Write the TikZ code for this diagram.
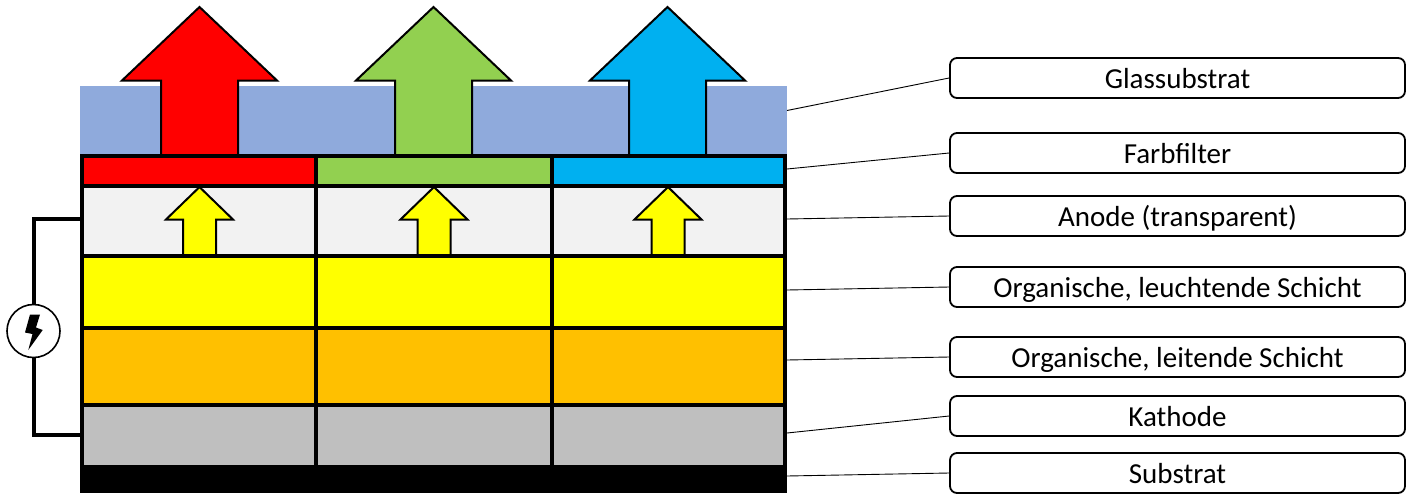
\documentclass[tikz,border=0pt]{standalone}
\usepackage{fontspec}
\setmainfont{Carlito}
\definecolor{cglass}{HTML}{8FAADC}
\definecolor{cred}{RGB}{255,0,0}
\definecolor{cyellow}{RGB}{255,255,0}
\definecolor{cgreen}{HTML}{92D050}
\definecolor{cblue}{HTML}{00B0F0}
\definecolor{clight}{HTML}{F2F2F2}
\definecolor{corange}{HTML}{FFC000}
\definecolor{cgrey}{HTML}{BFBFBF}
\tikzset{
  px/.style={x=1pt,y=-1pt},
  cell/.style={draw=black,line width=3.6pt},
  bigarrow/.style={draw=black,line width=2pt,miter limit=10},
  smallarrow/.style={draw=black,line width=2pt,miter limit=10},
  labelbox/.style={draw=black,line width=1.8pt,rounded corners=7pt,minimum width=455pt,minimum height=40pt,inner sep=0pt,text height=22pt,text depth=2pt,font=\fontsize{29}{34}\selectfont,anchor=center},
  leader/.style={draw=black,line width=0.9pt},
  wire/.style={draw=black,line width=4pt},
}
\newcommand{\bigarr}[2]{%
  \path[bigarrow,fill=#2] (#1,7) -- (#1+77.5,80.5) -- (#1+38.5,80.5) -- (#1+38.5,155) -- (#1-38.5,155) -- (#1-38.5,80.5) -- (#1-77.5,80.5) -- cycle;}
\newcommand{\smallarr}[1]{%
  \path[smallarrow,fill=cyellow] (#1,187) -- (#1+33.5,219.5) -- (#1+16.5,219.5) -- (#1+16.5,255) -- (#1-16.5,255) -- (#1-16.5,219.5) -- (#1-33.5,219.5) -- cycle;}
\newcommand{\layer}[3]{%
  \path[fill=#3] (82,#1) rectangle (785,#2);
  \draw[cell] (82,#1) rectangle (316,#2);
  \draw[cell] (316,#1) rectangle (552,#2);
  \draw[cell] (552,#1) rectangle (785,#2);}
\begin{document}
\begin{tikzpicture}[px]
\useasboundingbox (0,0) rectangle (1412,501);
% glass
\fill[cglass] (80,86) rectangle (787,156);
% large arrows
\bigarr{199.5}{cred}
\bigarr{433.5}{cgreen}
\bigarr{667.5}{cblue}
% layers
\fill[cred] (82,156) rectangle (316,186);
\fill[cgreen] (316,156) rectangle (552,186);
\fill[cblue] (552,156) rectangle (785,186);
\layer{156}{186}{none}
\layer{186}{256}{clight}
\layer{256}{328}{cyellow}
\layer{328}{405}{corange}
\layer{405}{467}{cgrey}
\fill[black] (80,465.5) rectangle (787,493);
% small arrows
\smallarr{199.5}
\smallarr{434}
\smallarr{668}
% power circuit
\node[draw=black,line width=1.6pt,fill=white,circle,minimum size=53pt,inner sep=0pt] (power) at (33.5,331) {};
\coordinate (anodeEnd) at (81,219);
\coordinate (cathodeEnd) at (81,434.5);
\draw[wire,line join=miter] (anodeEnd) -| (power.north);
\draw[wire,line join=miter] (cathodeEnd) -| (power.south);
\fill[black] (30,314.5) -- (40,314.5) -- (36,327.5) -- (42.7,330) -- (28.3,350) -- (32.5,334) -- (25,332.5) -- cycle;
% labels
\node[labelbox] (lGlass) at (1177.5,78) {Glassubstrat};
\node[labelbox] (lFilter) at (1177.5,153) {Farbfilter};
\node[labelbox] (lAnode) at (1177.5,216) {Anode (transparent)};
\node[labelbox] (lEmit) at (1177.5,287) {Organische, leuchtende Schicht};
\node[labelbox] (lCond) at (1177.5,357) {Organische, leitende Schicht};
\node[labelbox] (lCath) at (1177.5,416) {Kathode};
\node[labelbox] (lSub) at (1177.5,473) {Substrat};
% leader starts
\coordinate (sGlass) at (787,110.5);
\coordinate (sFilter) at (787,169);
\coordinate (sAnode) at (787,219);
\coordinate (sEmit) at (787,290);
\coordinate (sCond) at (787,360);
\coordinate (sCath) at (787,433);
\coordinate (sSub) at (787,476);
\draw[leader] (sGlass) -- (lGlass.west);
\draw[leader] (sFilter) -- (lFilter.west);
\draw[leader] (sAnode) -- (lAnode.west);
\draw[leader] (sEmit) -- (lEmit.west);
\draw[leader] (sCond) -- (lCond.west);
\draw[leader] (sCath) -- (lCath.west);
\draw[leader] (sSub) -- (lSub.west);
\end{tikzpicture}
\end{document}
